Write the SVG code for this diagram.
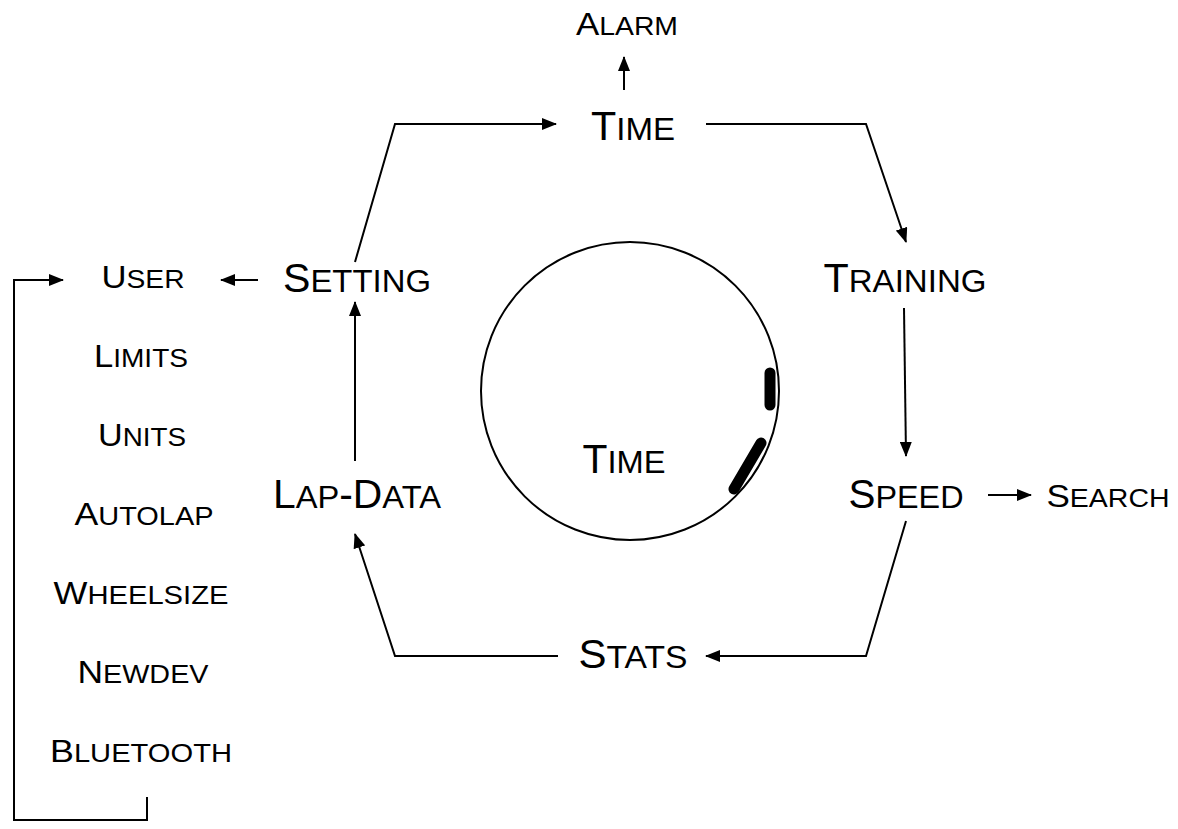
<svg xmlns="http://www.w3.org/2000/svg" width="1178" height="829" viewBox="0 0 1178 829">
<style>
text{font-family:"Liberation Sans",Arial,sans-serif;fill:#000;text-anchor:middle}
.L{font-size:40px}.L .s{font-size:32px}
.S{font-size:32px}.S .s{font-size:26px}
.c{fill:none;stroke:#000;stroke-width:2;marker-end:url(#ah)}
</style>
<defs>
<marker id="ah" markerUnits="userSpaceOnUse" markerWidth="15" markerHeight="12" refX="14" refY="6" orient="auto">
<path d="M0,0 L15,6 L0,12 Z" fill="#000"/>
</marker>
</defs>
<rect width="1178" height="829" fill="#fff"/>
<g id="watch">
<circle cx="630" cy="391" r="149" fill="none" stroke="#000" stroke-width="2"/>
<line x1="770" y1="373" x2="770" y2="405" stroke="#000" stroke-width="11" stroke-linecap="round"/>
<line x1="761" y1="443" x2="734" y2="489" stroke="#000" stroke-width="11" stroke-linecap="round"/>
<text class="L" x="624" y="473" textLength="83" lengthAdjust="spacingAndGlyphs">T<tspan class="s">IME</tspan></text>
</g>
<g id="connectors">
<path class="c" d="M624,90 L624,57"/>
<path class="c" d="M355,262 L395,124 L556,124"/>
<path class="c" d="M706,124 L866,124 L906,242"/>
<path class="c" d="M904,308 L906,456"/>
<path class="c" d="M906,521 L866,656 L706,656"/>
<path class="c" d="M558,656 L395,656 L355,534"/>
<path class="c" d="M355,461 L355,302"/>
<path class="c" d="M258,280 L221,280"/>
<path class="c" d="M988,495 L1031,495"/>
<path class="c" d="M147,797 L147,820 L14,820 L14,280 L63,280"/>
</g>
<g id="alarm"><text class="S" x="627" y="35" textLength="102" lengthAdjust="spacingAndGlyphs">A<tspan class="s">LARM</tspan></text></g>
<g id="time"><text class="L" x="633" y="140" textLength="84" lengthAdjust="spacingAndGlyphs">T<tspan class="s">IME</tspan></text></g>
<g id="training"><text class="L" x="905" y="292" textLength="163" lengthAdjust="spacingAndGlyphs">T<tspan class="s">RAINING</tspan></text></g>
<g id="speed"><text class="L" x="906" y="508" textLength="115" lengthAdjust="spacingAndGlyphs">S<tspan class="s">PEED</tspan></text></g>
<g id="search"><text class="S" x="1108" y="507" textLength="123" lengthAdjust="spacingAndGlyphs">S<tspan class="s">EARCH</tspan></text></g>
<g id="stats"><text class="L" x="633" y="668" textLength="109" lengthAdjust="spacingAndGlyphs">S<tspan class="s">TATS</tspan></text></g>
<g id="lapdata"><text class="L" x="357" y="508" textLength="168" lengthAdjust="spacingAndGlyphs">L<tspan class="s">AP</tspan>-D<tspan class="s">ATA</tspan></text></g>
<g id="setting"><text class="L" x="357" y="292" textLength="148" lengthAdjust="spacingAndGlyphs">S<tspan class="s">ETTING</tspan></text></g>
<g id="user"><text class="S" x="143" y="288" textLength="83" lengthAdjust="spacingAndGlyphs">U<tspan class="s">SER</tspan></text></g>
<g id="limits"><text class="S" x="141" y="367" textLength="94" lengthAdjust="spacingAndGlyphs">L<tspan class="s">IMITS</tspan></text></g>
<g id="units"><text class="S" x="142" y="446" textLength="88" lengthAdjust="spacingAndGlyphs">U<tspan class="s">NITS</tspan></text></g>
<g id="autolap"><text class="S" x="144" y="525" textLength="139" lengthAdjust="spacingAndGlyphs">A<tspan class="s">UTOLAP</tspan></text></g>
<g id="wheelsize"><text class="S" x="141" y="604" textLength="175" lengthAdjust="spacingAndGlyphs">W<tspan class="s">HEELSIZE</tspan></text></g>
<g id="newdev"><text class="S" x="143" y="683" textLength="131" lengthAdjust="spacingAndGlyphs">N<tspan class="s">EWDEV</tspan></text></g>
<g id="bluetooth"><text class="S" x="141" y="762" textLength="182" lengthAdjust="spacingAndGlyphs">B<tspan class="s">LUETOOTH</tspan></text></g>
</svg>
